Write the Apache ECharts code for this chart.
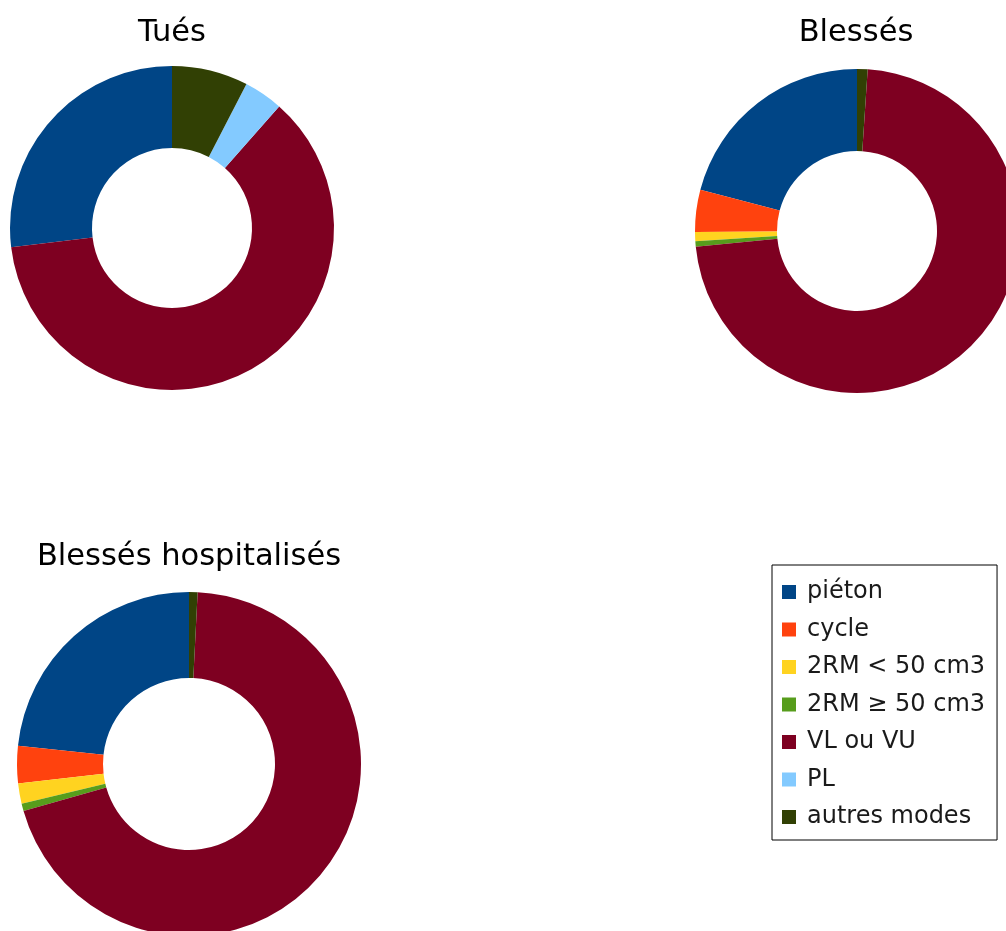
<!DOCTYPE html>
<html>
<head>
<meta charset="utf-8">
<script src="https://cdn.jsdelivr.net/npm/echarts@6/dist/echarts.min.js"></script>
<style>
  html, body { margin: 0; padding: 0; background: #fff; }
  #chart { width: 1006px; height: 931px; }
</style>
</head>
<body>
<div id="chart"></div>
<script>
// catégories d'usagers (ordre de la légende)
const categories = ['piéton', 'cycle', '2RM < 50 cm3', '2RM ≥ 50 cm3', 'VL ou VU', 'PL', 'autres modes']
const colors = ['#004586', '#ff420e', '#ffd320', '#579d1c', '#7e0021', '#83caff', '#314004']

const tuesValues = [26.9, 0, 0, 0, 61.6, 3.9, 7.6]
const blessesValues = [20.9, 4.2, 0.9, 0.55, 72.4, 0, 1.05]
const hospValues = [23.3, 3.5, 1.9, 0.7, 69.8, 0, 0.8]

const chart = echarts.init(document.getElementById('chart'))

const buildData = values => categories.map((name, i) => ({
  name: name,
  value: values[i],
  itemStyle: { color: colors[i] }
}))

const ring = (name, values, center, radius) => ({
  name: name,
  type: 'pie',
  center: center,
  radius: radius,
  startAngle: 90,
  clockwise: false,
  avoidLabelOverlap: false,
  label: { show: false },
  labelLine: { show: false },
  itemStyle: { borderWidth: 0 },
  emphasis: { scale: false },
  data: buildData(values)
})

const titleStyle = {
  fontFamily: 'DejaVu Sans',
  fontSize: 30.5,
  fontWeight: 'normal',
  color: '#000'
}

chart.setOption({
  animation: false,
  color: colors,
  title: [
    { text: 'Tués', left: 172, top: 18, padding: 0, textAlign: 'center', textStyle: titleStyle },
    { text: 'Blessés', left: 856, top: 18, padding: 0, textAlign: 'center', textStyle: titleStyle },
    { text: 'Blessés hospitalisés', left: 189, top: 542, padding: 0, textAlign: 'center', textStyle: titleStyle }
  ],
  legend: {
    orient: 'vertical',
    left: 772,
    top: 565,
    data: categories,
    icon: 'rect',
    itemWidth: 14,
    itemHeight: 14,
    itemGap: 13.5,
    padding: [15, 12, 11, 10],
    borderColor: '#000',
    borderWidth: 1,
    backgroundColor: '#fff',
    selectedMode: false,
    textStyle: {
      fontFamily: 'DejaVu Sans',
      fontSize: 24,
      color: '#1a1a1a',
      padding: [0, 0, 0, 6]
    }
  },
  series: [
    ring('Tués', tuesValues, [172, 228], [80, 162]),
    ring('Blessés', blessesValues, [857, 231], [80, 162]),
    ring('Blessés hospitalisés', hospValues, [189, 764], [86, 172])
  ]
})

window.addEventListener('resize', () => chart.resize())
</script>
</body>
</html>
